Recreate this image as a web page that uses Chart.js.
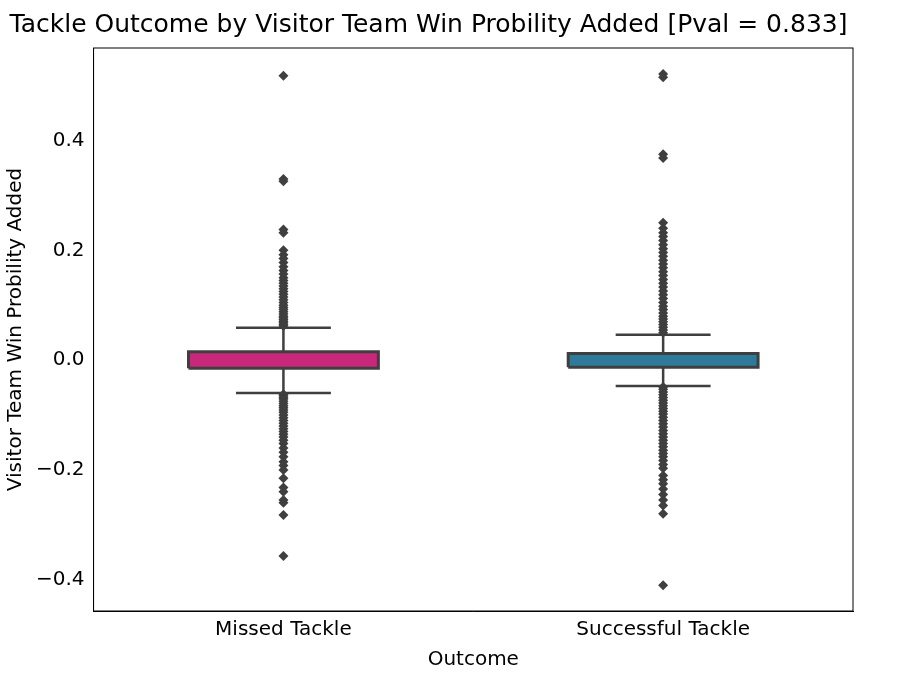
<!DOCTYPE html>
<html><head><meta charset="utf-8">
<script src="https://cdn.jsdelivr.net/npm/chart.js@4/dist/chart.umd.min.js"></script>
<style>body{margin:0;background:#fff}canvas{display:block}</style>
</head><body>
<canvas id="c" width="915" height="678"></canvas>
<script>
const categories = ["Missed Tackle", "Successful Tackle"];
const q1 = [-0.015, -0.013];
const medians = [0.0, 0.0];
const q3 = [0.015, 0.012];
const whiskLow = [-0.060, -0.047];
const whiskHigh = [0.059, 0.046];
const boxColors = ["#c8287a", "#2f7a9a"];
const outliersMissed = [0.518,0.330,0.326,0.238,0.232,0.200,0.192,0.185,0.178,0.170,0.163,0.157,0.150,0.145,0.140,0.135,0.130,0.125,0.120,0.115,0.110,0.105,0.100,0.096,0.092,0.088,0.084,0.080,0.077,0.074,0.071,0.068,0.065,0.062,
 -0.062,-0.065,-0.068,-0.071,-0.075,-0.079,-0.083,-0.087,-0.091,-0.095,-0.100,-0.105,-0.110,-0.115,-0.120,-0.125,-0.130,-0.135,-0.140,-0.146,-0.152,-0.160,-0.168,-0.176,-0.185,-0.192,-0.200,-0.215,-0.232,-0.240,-0.255,-0.260,-0.282,-0.357];
const outliersSuccess = [0.521,0.515,0.375,0.368,0.250,0.240,0.232,0.225,0.218,0.210,0.203,0.196,0.189,0.182,0.175,0.168,0.161,0.154,0.147,0.140,0.133,0.126,0.119,0.112,0.105,0.098,0.092,0.086,0.080,0.075,0.070,0.065,0.060,0.055,0.050,
 -0.049,-0.053,-0.058,-0.063,-0.068,-0.073,-0.078,-0.083,-0.088,-0.093,-0.098,-0.104,-0.110,-0.116,-0.122,-0.128,-0.134,-0.140,-0.146,-0.152,-0.158,-0.164,-0.170,-0.176,-0.183,-0.190,-0.197,-0.210,-0.218,-0.225,-0.235,-0.245,-0.255,-0.265,-0.280,-0.410];
const yTicks = [-0.4,-0.2,0.0,0.2,0.4];
const halfW = 0.25, capW = 0.125;
const edge = "#3f3f3f";
const datasets = [];
categories.forEach((c,i)=>{
  datasets.push({type:'line',data:[{x:i,y:whiskLow[i]},{x:i,y:q1[i]}],borderColor:edge,borderWidth:2.5,pointRadius:0});
  datasets.push({type:'line',data:[{x:i,y:q3[i]},{x:i,y:whiskHigh[i]}],borderColor:edge,borderWidth:2.5,pointRadius:0});
  datasets.push({type:'line',data:[{x:i-capW,y:whiskLow[i]},{x:i+capW,y:whiskLow[i]}],borderColor:edge,borderWidth:2.5,pointRadius:0});
  datasets.push({type:'line',data:[{x:i-capW,y:whiskHigh[i]},{x:i+capW,y:whiskHigh[i]}],borderColor:edge,borderWidth:2.5,pointRadius:0});
  const outs = i===0?outliersMissed:outliersSuccess;
  datasets.push({type:'scatter',data:outs.map(v=>({x:i,y:v})),pointStyle:'rectRot',pointRadius:5,backgroundColor:edge,borderColor:edge,borderWidth:0});
  datasets.push({type:'line',data:[{x:i-halfW,y:q1[i]},{x:i+halfW,y:q1[i]},{x:i+halfW,y:q3[i]},{x:i-halfW,y:q3[i]},{x:i-halfW,y:q1[i]}],
    borderColor:edge,borderWidth:3,pointRadius:0,fill:'shape',backgroundColor:boxColors[i],tension:0});
  datasets.push({type:'line',data:[{x:i-halfW,y:medians[i]},{x:i+halfW,y:medians[i]}],borderColor:edge,borderWidth:3,pointRadius:0});
});
new Chart(document.getElementById('c'),{
  type:'scatter',
  data:{datasets},
  options:{
    responsive:false,animation:false,
    layout:{padding:{left:4,right:62,top:2,bottom:6}},
    plugins:{legend:{display:false},tooltip:{enabled:false},
      title:{display:true,text:'Tackle Outcome by Visitor Team Win Probility Added [Pval = 0.833]',color:'#000',font:{family:'DejaVu Sans',size:25,weight:'normal'},padding:{top:8,bottom:8}}},
    scales:{
      x:{type:'linear',min:-0.5,max:1.5,afterBuildTicks:ax=>{ax.ticks=categories.map((c,i)=>({value:i}));},
        ticks:{callback:(v)=>categories[v],color:'#000',font:{family:'DejaVu Sans',size:20},padding:2},
        grid:{display:false,drawTicks:true,tickLength:5,color:'#000'},border:{color:'#000',width:1},
        title:{display:true,text:'Outcome',color:'#000',font:{family:'DejaVu Sans',size:20},padding:{top:4,bottom:0}}},
      y:{min:-0.457,max:0.5685,afterBuildTicks:ax=>{ax.ticks=yTicks.map(v=>({value:v}));},
        ticks:{callback:v=>(v<0?'\u2212':'')+Math.abs(v).toFixed(1),color:'#000',font:{family:'DejaVu Sans',size:20},padding:4},
        grid:{display:false,drawTicks:true,tickLength:5,color:'#000'},border:{color:'#000',width:1},
        title:{display:true,text:'Visitor Team Win Probility Added',color:'#000',font:{family:'DejaVu Sans',size:20},padding:{top:0,bottom:4}}}
    }
  },
  plugins:[{id:'frame',afterDraw(ch){const a=ch.chartArea,x=ch.ctx;x.save();x.strokeStyle='#000';x.lineWidth=1;x.strokeRect(a.left,a.top,a.right-a.left,a.bottom-a.top);x.restore();}}]
});
</script>
</body></html>
